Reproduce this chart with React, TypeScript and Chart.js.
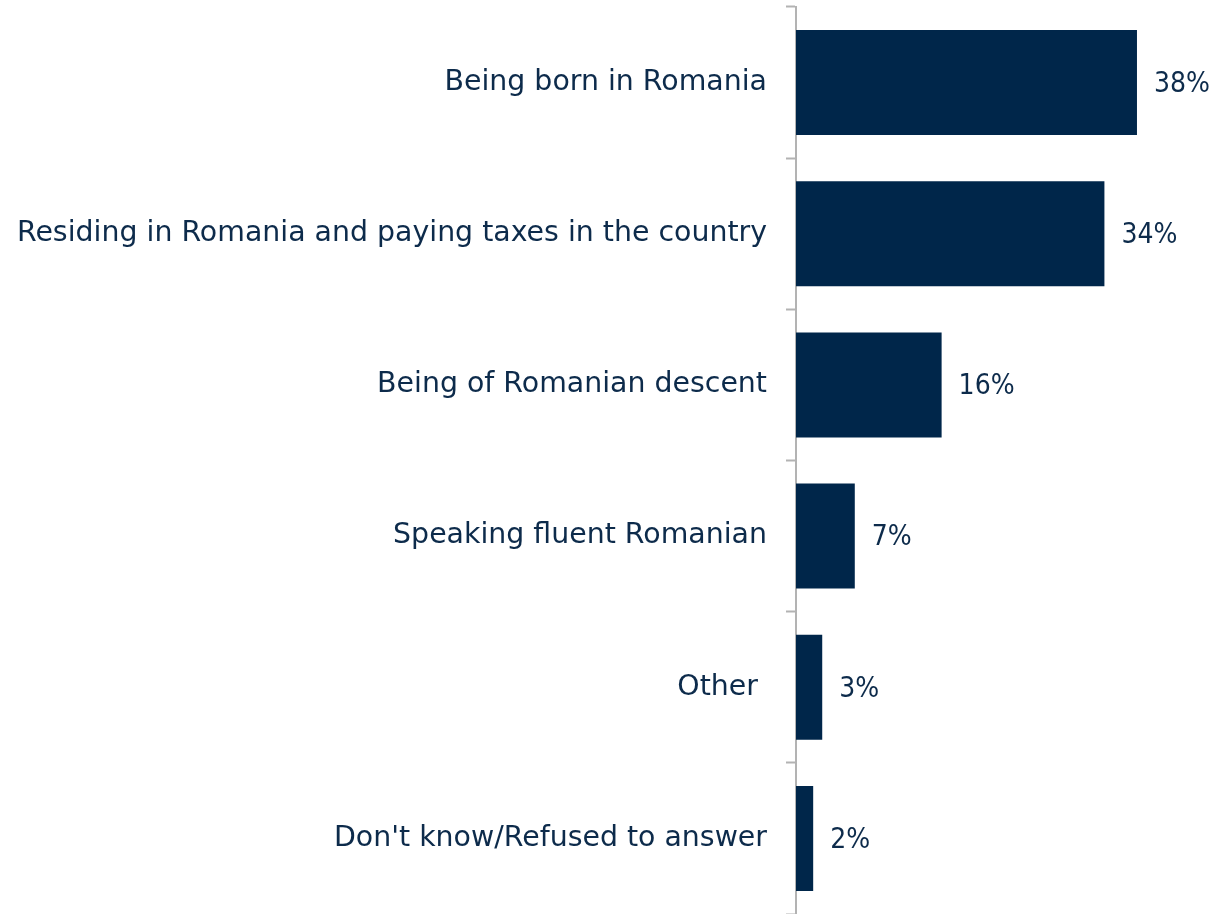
import React, { useEffect, useRef } from "react";
import { Chart, registerables } from "chart.js";

Chart.register(...registerables);

const categories = [
  "Being born in Romania",
  "Residing in Romania and paying taxes in the country",
  "Being of Romanian descent",
  "Speaking fluent Romanian",
  "Other ",
  "Don't know/Refused to answer",
];
const values = [37.7, 34.1, 16.1, 6.5, 2.9, 1.9];

const FONT = "'DejaVu Sans', sans-serif";
const VALUE_FONT = "'DejaVu Sans Condensed', 'DejaVu Sans', sans-serif";
const TEXT_COLOR = "#0d2b4b";
const BAR_COLOR = "#00264a";

const valueLabels = {
  id: "valueLabels",
  afterDatasetsDraw(chart: any) {
    const ctx = chart.ctx;
    const meta = chart.getDatasetMeta(0);
    ctx.save();
    ctx.font = `28px ${VALUE_FONT}`;
    ctx.fillStyle = TEXT_COLOR;
    ctx.textAlign = "left";
    ctx.textBaseline = "middle";
    meta.data.forEach((bar: any, i: number) => {
      const v = chart.data.datasets[0].data[i] as number;
      ctx.fillText(`${Math.round(v)}%`, bar.x + 17, bar.y + 2);
    });
    ctx.restore();
  },
};

export default function App() {
  const ref = useRef<HTMLCanvasElement>(null);
  useEffect(() => {
    document.body.style.margin = "0";
    document.body.style.overflow = "hidden";
    const chart = new Chart(ref.current!, {
      type: "bar",
      data: {
        labels: categories,
        datasets: [
          {
            data: values,
            backgroundColor: BAR_COLOR,
            barPercentage: 0.695,
            categoryPercentage: 1,
          },
        ],
      },
      options: {
        indexAxis: "y",
        animation: false,
        responsive: false,
        maintainAspectRatio: false,
        layout: { padding: { top: 7, bottom: 0, right: 7, left: 0 } },
        plugins: { legend: { display: false }, tooltip: { enabled: false } },
        scales: {
          x: { display: false, min: 0, max: 45 },
          y: {
            afterFit(scale: any) {
              scale.width = 796;
              scale.paddingTop = 0;
              scale.paddingBottom = 0;
            },
            border: { display: true, color: "#b3b3b3", width: 2 },
            grid: {
              display: true,
              offset: true,
              drawOnChartArea: false,
              drawTicks: true,
              tickLength: 10,
              tickWidth: 2,
              tickColor: "#b3b3b3",
              color: "#b3b3b3",
            },
            ticks: {
              color: TEXT_COLOR,
              padding: 19,
              font: { family: FONT, size: 28.4 },
            },
          },
        },
      },
      plugins: [valueLabels],
    });
    return () => chart.destroy();
  }, []);
  return (
    <div style={{ width: 1210, height: 914 }}>
      <canvas ref={ref} width={1210} height={914} style={{ display: "block" }} />
    </div>
  );
}
